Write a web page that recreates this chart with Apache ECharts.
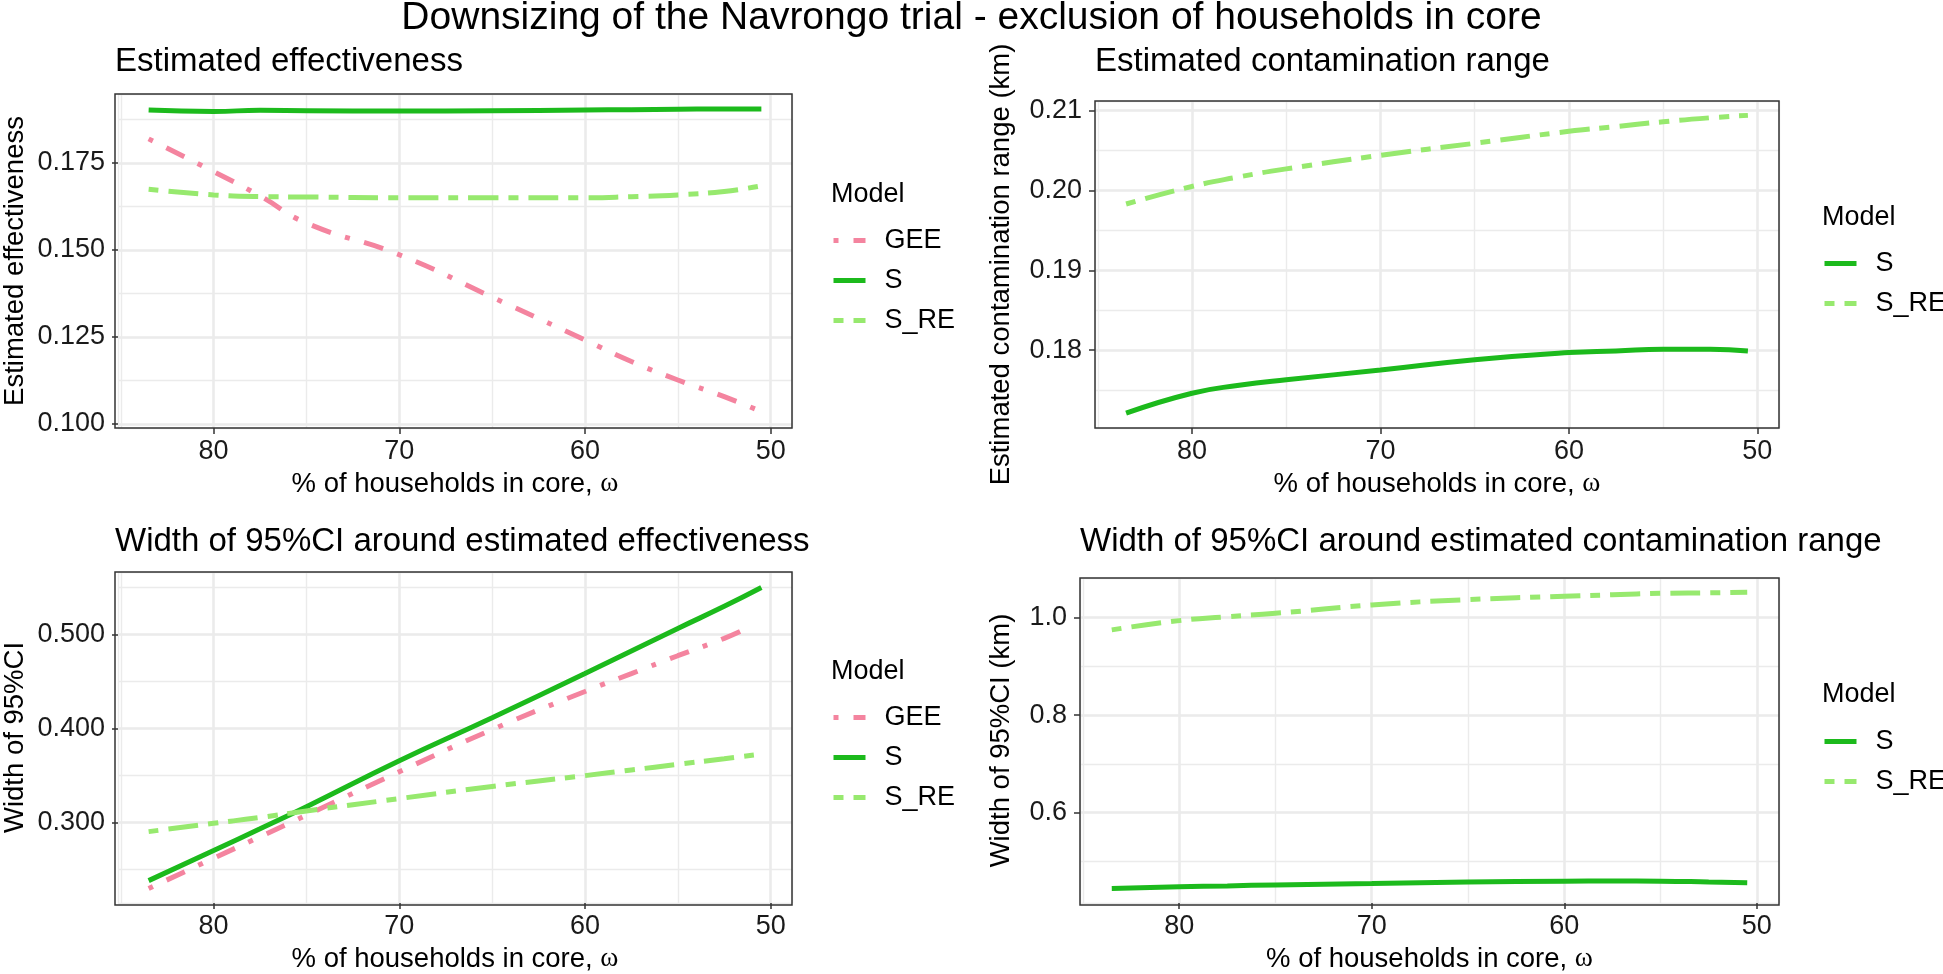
<!DOCTYPE html>
<html><head><meta charset="utf-8">
<script src="https://cdn.jsdelivr.net/npm/echarts@6/dist/echarts.min.js"></script>
<style>html,body{margin:0;padding:0;background:#fff}#c{width:1943px;height:974px}</style>
</head><body><div id="c"></div>
<script>
// ---------------- data ----------------
const xCore = [83.5, 80, 77.5, 75, 70, 65, 60, 57.5, 55, 52.5, 50.5];
const xCoreGeeCI = [83.5, 80, 77.5, 75, 70, 65, 60, 57.5, 55, 52.5, 51.1];
const xTicks = [80, 70, 60, 50];
const xTickLabels = ['80', '70', '60', '50'];

const effGEE = [0.1819, 0.1725, 0.1655, 0.1577, 0.1486, 0.1364, 0.1241, 0.1179, 0.1126, 0.1078, 0.1035];
const effS   = [0.1902, 0.1898, 0.1901, 0.1900, 0.1899, 0.1900, 0.1902, 0.1903, 0.1904, 0.1905, 0.1905];
const effSRE = [0.1674, 0.1658, 0.1653, 0.1652, 0.1650, 0.1650, 0.1650, 0.1653, 0.1658, 0.1668, 0.1684];
const effTicks = [0.100, 0.125, 0.150, 0.175];
const effTickLabels = ['0.100', '0.125', '0.150', '0.175'];

const rangeS   = [0.1721, 0.1746, 0.1756, 0.1763, 0.1775, 0.1788, 0.1797, 0.1799, 0.1801, 0.1801, 0.1799];
const rangeSRE = [0.1983, 0.2005, 0.2017, 0.2027, 0.2044, 0.2059, 0.2074, 0.2080, 0.2086, 0.2091, 0.2094];
const rangeTicks = [0.18, 0.19, 0.20, 0.21];
const rangeTickLabels = ['0.18', '0.19', '0.20', '0.21'];

const ciEffGEE = [0.2300, 0.2622, 0.2850, 0.3080, 0.3542, 0.3990, 0.4395, 0.4585, 0.4775, 0.4960, 0.5085];
const ciEffS   = [0.2384, 0.2705, 0.2935, 0.3170, 0.3658, 0.4115, 0.4585, 0.4825, 0.5065, 0.5300, 0.5500];
const ciEffSRE = [0.2905, 0.2993, 0.3055, 0.3125, 0.3256, 0.3385, 0.3500, 0.3560, 0.3620, 0.3680, 0.3729];
const ciEffTicks = [0.3, 0.4, 0.5];
const ciEffTickLabels = ['0.300', '0.400', '0.500'];

const ciRangeS   = [0.4446, 0.4480, 0.4500, 0.4520, 0.4550, 0.4580, 0.4597, 0.4600, 0.4597, 0.4580, 0.4563];
const ciRangeSRE = [0.975, 0.994, 1.002, 1.009, 1.026, 1.037, 1.044, 1.047, 1.050, 1.051, 1.052];
const ciRangeTicks = [0.6, 0.8, 1.0];
const ciRangeTickLabels = ['0.6', '0.8', '1.0'];

const mainTitle = 'Downsizing of the Navrongo trial - exclusion of households in core';
const panelTitles = ['Estimated effectiveness', 'Estimated contamination range',
  'Width of 95%CI around estimated effectiveness', 'Width of 95%CI around estimated contamination range'];
const yTitles = ['Estimated effectiveness', 'Estimated contamination range (km)', 'Width of 95%CI', 'Width of 95%CI (km)'];
const xTitle = '% of households in core, {w|ω}';
const legendTitle = 'Model';

// ---------------- styles / layout ----------------
const FONT = 'Liberation Sans';
const COL = { GEE: '#F4849F', S: '#1CBA1C', S_RE: '#97E96E' };
const DASH = { GEE: [5, 15, 20, 15], S: 'solid', S_RE: [10, 10, 30, 10] };
const LW = 5;
const X_MIN = 48.85, X_MAX = 85.15;

const panels = [
  { left: 115, top: 94, width: 677, height: 334, yMin: 0.0988, yMax: 0.1948, yStep: 0.025, yMinor: 0.0125,
    ticks: effTicks, labels: effTickLabels, nameGap: 89,
    series: [['GEE', xCore, effGEE], ['S', xCore, effS], ['S_RE', xCore, effSRE]],
    titleLeft: 115, titleTop: 45, legLeft: 831, legTop: 227, modelTop: 181 },
  { left: 1095, top: 101, width: 684, height: 327, yMin: 0.17025, yMax: 0.2112, yStep: 0.01, yMinor: 0.005,
    ticks: rangeTicks, labels: rangeTickLabels, nameGap: 80,
    series: [['S', xCore, rangeS], ['S_RE', xCore, rangeSRE]],
    titleLeft: 1095, titleTop: 45, legLeft: 1822, legTop: 250, modelTop: 204 },
  { left: 115, top: 572, width: 677, height: 333, yMin: 0.2146, yMax: 0.5665, yStep: 0.1, yMinor: 0.05,
    ticks: ciEffTicks, labels: ciEffTickLabels, nameGap: 89,
    series: [['GEE', xCoreGeeCI, ciEffGEE], ['S', xCore, ciEffS], ['S_RE', xCore, ciEffSRE]],
    titleLeft: 115, titleTop: 525, legLeft: 831, legTop: 704, modelTop: 658 },
  { left: 1080, top: 578, width: 699, height: 327, yMin: 0.4149, yMax: 1.0814, yStep: 0.2, yMinor: 0.1,
    ticks: ciRangeTicks, labels: ciRangeTickLabels, nameGap: 65,
    series: [['S', xCore, ciRangeS], ['S_RE', xCore, ciRangeSRE]],
    titleLeft: 1080, titleTop: 525, legLeft: 1822, legTop: 728, modelTop: 681 }
];

const labelStyle = { fontFamily: FONT, fontSize: 27, color: '#1a1a1a' };
const grids = [], xAxes = [], yAxes = [], series = [], legends = [], titles = [], graphics = [];

titles.push({ text: mainTitle, left: 'center', top: -1, padding: 0,
  textStyle: { fontFamily: FONT, fontSize: 39, fontWeight: 'normal', color: '#000' } });

panels.forEach((p, i) => {
  grids.push({ left: p.left, top: p.top, width: p.width, height: p.height, containLabel: false, show: false });
  const fmtX = v => { const k = xTicks.indexOf(Math.round(v)); return k >= 0 ? xTickLabels[k] : ''; };
  const fmtY = v => { for (let k = 0; k < p.ticks.length; k++) if (Math.abs(p.ticks[k] - v) < 1e-9) return p.labels[k]; return ''; };
  // main x axis
  xAxes.push({ gridIndex: i, type: 'value', inverse: true, min: X_MIN, max: X_MAX, minInterval: 10, maxInterval: 10,
    axisLine: { show: false },
    axisTick: { show: true, length: 6, customValues: xTicks, lineStyle: { color: '#333', width: 1.5 } },
    axisLabel: { show: true, customValues: xTicks, formatter: fmtX, margin: 10, ...labelStyle },
    splitLine: { show: true, lineStyle: { color: '#EBEBEB', width: 2.5 } },
    name: xTitle, nameLocation: 'middle', nameGap: 42,
    nameTextStyle: { fontFamily: FONT, fontSize: 27.5, color: '#000',
      rich: { w: { fontFamily: 'Liberation Serif', fontSize: 27.5, color: '#000' } } } });
  // minor x axis
  xAxes.push({ gridIndex: i, type: 'value', inverse: true, position: 'top', min: X_MIN, max: X_MAX, minInterval: 5, maxInterval: 5,
    axisLine: { show: false }, axisTick: { show: false }, axisLabel: { show: false },
    splitLine: { show: true, lineStyle: { color: '#EBEBEB', width: 1.4 } } });
  // main y axis
  yAxes.push({ gridIndex: i, type: 'value', min: p.yMin, max: p.yMax, minInterval: p.yStep, maxInterval: p.yStep,
    axisLine: { show: false },
    axisTick: { show: true, length: 6, customValues: p.ticks, lineStyle: { color: '#333', width: 1.5 } },
    axisLabel: { show: true, customValues: p.ticks, formatter: fmtY, margin: 13, ...labelStyle },
    splitLine: { show: true, lineStyle: { color: '#EBEBEB', width: 2.5 } },
    name: yTitles[i], nameLocation: 'middle', nameGap: p.nameGap,
    nameTextStyle: { fontFamily: FONT, fontSize: 27.5, color: '#000' } });
  // minor y axis
  yAxes.push({ gridIndex: i, type: 'value', position: 'right', min: p.yMin, max: p.yMax, minInterval: p.yMinor, maxInterval: p.yMinor,
    axisLine: { show: false }, axisTick: { show: false }, axisLabel: { show: false },
    splitLine: { show: true, lineStyle: { color: '#EBEBEB', width: 1.4 } } });

  p.series.forEach(([name, xs, ys]) => {
    series.push({ type: 'line', name, xAxisIndex: 2 * i, yAxisIndex: 2 * i, smooth: true, symbol: 'none',
      data: xs.map((x, k) => [x, ys[k]]),
      lineStyle: { color: COL[name], width: LW, type: DASH[name], cap: 'butt' },
      itemStyle: { color: COL[name] }, z: 3 });
  });

  titles.push({ text: panelTitles[i], left: p.titleLeft, top: p.titleTop, padding: 0,
    textStyle: { fontFamily: FONT, fontSize: 33, fontWeight: 'normal', color: '#000' } });
  titles.push({ text: legendTitle, left: p.legLeft, top: p.modelTop, padding: 0,
    textStyle: { fontFamily: FONT, fontSize: 27, fontWeight: 'normal', color: '#000' } });

  legends.push({ orient: 'vertical', left: p.legLeft, top: p.legTop, padding: 0, itemWidth: 32, itemHeight: 14, itemGap: 13,
    selectedMode: false, data: p.series.map(s => s[0]),
    lineStyle: { width: LW }, itemStyle: { opacity: 0 },
    textStyle: { fontFamily: FONT, fontSize: 27, color: '#000', lineHeight: 27, padding: [0, 0, 0, 14] } });

  graphics.push({ type: 'rect', silent: true, z: 100,
    shape: { x: p.left, y: p.top, width: p.width, height: p.height },
    style: { fill: null, stroke: '#333', lineWidth: 1.5 } });
});

const chart = echarts.init(document.getElementById('c'), null, { renderer: 'canvas' });
chart.setOption({
  animation: false, backgroundColor: '#fff',
  title: titles, grid: grids, xAxis: xAxes, yAxis: yAxes, series, legend: legends, graphic: graphics
});
</script></body></html>
